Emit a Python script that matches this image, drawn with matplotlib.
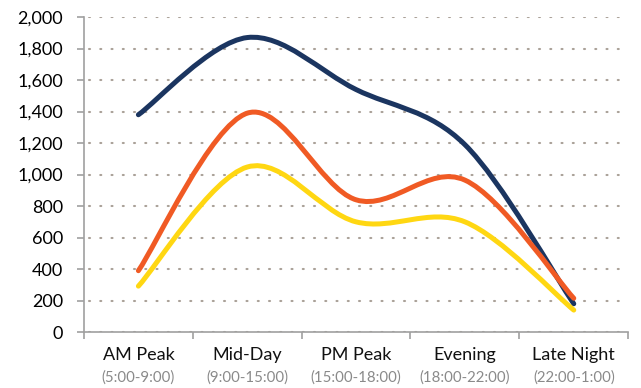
import numpy as np
import matplotlib
matplotlib.use("Agg")
import matplotlib.pyplot as plt
from matplotlib.path import Path
from matplotlib.patches import PathPatch

plt.rcParams['font.family'] = ['Lato', 'DejaVu Sans']

periods = ['AM Peak', 'Mid-Day', 'PM Peak', 'Evening', 'Late Night']
hours = ['(5:00-9:00)', '(9:00-15:00)', '(15:00-18:00)', '(18:00-22:00)', '(22:00-1:00)']

navy_vals = [1380, 1870, 1540, 1190, 180]
orange_vals = [390, 1390, 840, 965, 215]
yellow_vals = [292, 1048, 700, 700, 140]

series_colors = ['#1b3560', '#f05a24', '#ffd712']
grid_col = '#aaa198'
axis_col = '#a0a0a0'


def smooth_path(xs, ys):
    # Catmull-Rom style cubic bezier through every point
    pts = np.column_stack([xs, ys]).astype(float)
    n = len(pts)
    verts = [pts[0]]
    codes = [Path.MOVETO]
    for i in range(n - 1):
        p0 = pts[i - 1] if i > 0 else pts[i]
        p1 = pts[i]
        p2 = pts[i + 1]
        p3 = pts[i + 2] if i + 2 < n else pts[i + 1]
        c1 = p1 + (p2 - p0) / 6.0
        c2 = p2 - (p3 - p1) / 6.0
        verts += [c1, c2, p2]
        codes += [Path.CURVE4] * 3
    return Path(verts, codes)


fig = plt.figure(figsize=(6.41, 3.88), dpi=100)
ax = fig.add_axes([0.131, 0.144, 0.849, 0.812])

x = np.arange(len(periods))
for vals, col, z in [(navy_vals, series_colors[0], 3),
                     (orange_vals, series_colors[1], 4),
                     (yellow_vals, series_colors[2], 5)]:
    p = smooth_path(x, vals)
    ax.add_patch(PathPatch(p, facecolor='none', edgecolor=col, lw=3.6,
                           capstyle='round', joinstyle='round', zorder=z))

ax.set_xlim(-0.5, len(periods) - 0.5)
ax.set_ylim(0, 2000)
ax.set_yticks(range(0, 2001, 200))
ax.set_yticklabels([f'{v:,}' for v in range(0, 2001, 200)], fontsize=13)

ax.yaxis.grid(True, color=grid_col, linestyle=(3, (0.5, 4.9)), lw=1.5,
              dash_capstyle='round')
ax.set_axisbelow(True)

for s in ['top', 'right']:
    ax.spines[s].set_visible(False)
for s in ['left', 'bottom']:
    ax.spines[s].set_color(axis_col)
    ax.spines[s].set_linewidth(1.2)

ax.tick_params(axis='y', length=5, width=1.2, color=axis_col, pad=10)

# category boundaries get the tick marks, labels sit in the middle
ax.set_xticks(np.arange(-0.5, len(periods), 1.0), minor=True)
ax.set_xticks(x)
ax.set_xticklabels([])
ax.tick_params(axis='x', which='major', length=0)
ax.tick_params(axis='x', which='minor', length=5, width=1.2, color=axis_col)

for xi, name, hr in zip(x, periods, hours):
    ax.annotate(name, xy=(xi, 0), xycoords='data', xytext=(0, -16.5),
                textcoords='offset points', ha='center', va='center',
                fontsize=13, color='#111111')
    ax.annotate(hr, xy=(xi, 0), xycoords='data', xytext=(0, -32.5),
                textcoords='offset points', ha='center', va='center',
                fontsize=10.8, color='#8a8a8a')

fig.savefig('out.png', dpi=100)
